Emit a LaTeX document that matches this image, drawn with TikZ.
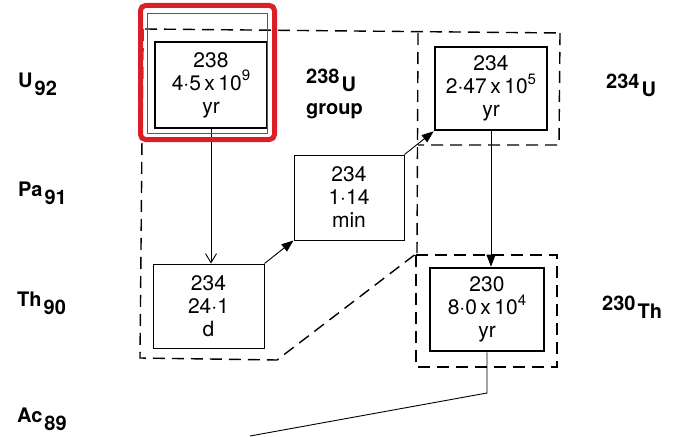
\documentclass[tikz,border=0pt]{standalone}
\usepackage{fontspec}
\setmainfont{TeX Gyre Heros}
\usetikzlibrary{arrows.meta}
\definecolor{annred}{HTML}{DC1F26}
\tikzset{
  thickbox/.style={draw, line width=2.6pt, inner sep=0pt, align=center, font=\fontsize{21}{23}\selectfont},
  thinbox/.style={draw, line width=1pt, inner sep=0pt, align=center, font=\fontsize{21}{23}\selectfont},
  grp/.style={line width=1.4pt, dash pattern=on 12pt off 7pt},
  lab/.style={inner sep=0pt, anchor=base west, font=\bfseries\fontsize{20}{22}\selectfont},
  conn/.style={line width=0.9pt},
  fill tip/.style={-{Triangle[length=12pt,width=9pt]}},
  open tip/.style={-{Straight Barb[length=9pt,width=11pt]}}
}
\newcommand{\sbx}[1]{\raisebox{-0.42em}{\hspace{2pt}#1}}
\newcommand{\spx}[1]{\raisebox{0.45em}{\fontsize{15}{15}\selectfont #1}}
\begin{document}
\begin{tikzpicture}[x=1pt,y=-1pt]
\useasboundingbox (0,0) rectangle (682,436);
% dashed groupings
\draw[grp] (145,29) -- (562,33);
\draw[grp] (143,29) -- (140,358) -- (277,360) -- (417,253);
\draw[grp] (418,33) -- (417,253);
\draw[grp] (560,33) -- (559,145) -- (418,145);
\draw[grp] (416,255) rectangle (557,367);
% boxes
\node[thickbox, minimum width=112pt, minimum height=86pt] (u238) at (211,85) {238\\4·5\,x\,10\spx{9}\\yr};
\node[thinbox, minimum width=111pt, minimum height=84pt] (th234) at (208.5,306) {234\\24·1\\d};
\node[thinbox, minimum width=110pt, minimum height=85pt] (pa234) at (349,197.5) {234\\1·14\\min};
\node[thickbox, minimum width=112pt, minimum height=83pt] (u234) at (491,88.5) {234\\2·47\,x\,10\spx{5}\\yr};
\node[thickbox, minimum width=114pt, minimum height=83pt] (th230) at (487,309.5) {230\\8·0\,x\,10\spx{4}\\yr};
% connectors
\draw[conn, open tip] (u238.south) -- (u238.south |- th234.north);
\draw[conn, fill tip] (th234.north east) -- (pa234.south west);
\draw[conn, fill tip] (pa234.north east) -- (u234.south west);
\draw[conn, fill tip] (u234.south) -- (u234.south |- th230.north);
\coordinate (bend) at (487,393);
\coordinate (exit) at (250,436);
\draw[conn] (th230.south) -- (bend) -- (exit);
% labels
\node[lab] (lU) at (18,87) {U\sbx{92}};
\node[lab] (lPa) at (18,196) {Pa\sbx{91}};
\node[lab] (lTh) at (17,306) {Th\sbx{90}};
\node[lab] (lAc) at (17,422) {Ac\sbx{89}};
\node[lab] (g238) at (306,83) {238\sbx{U}};
\node[lab] (g238b) at (306,114) {group};
\node[lab] (g234) at (606,88) {234\sbx{U}};
\node[lab] (g230) at (602,310) {230\sbx{Th}};
% annotation frame
\draw[annred, line width=5pt, rounded corners=5pt] (140.5,5.5) rectangle (274.5,139.5);
\draw[annred, line width=1pt] (147.5,13.5) rectangle (267,133);
\end{tikzpicture}
\end{document}
